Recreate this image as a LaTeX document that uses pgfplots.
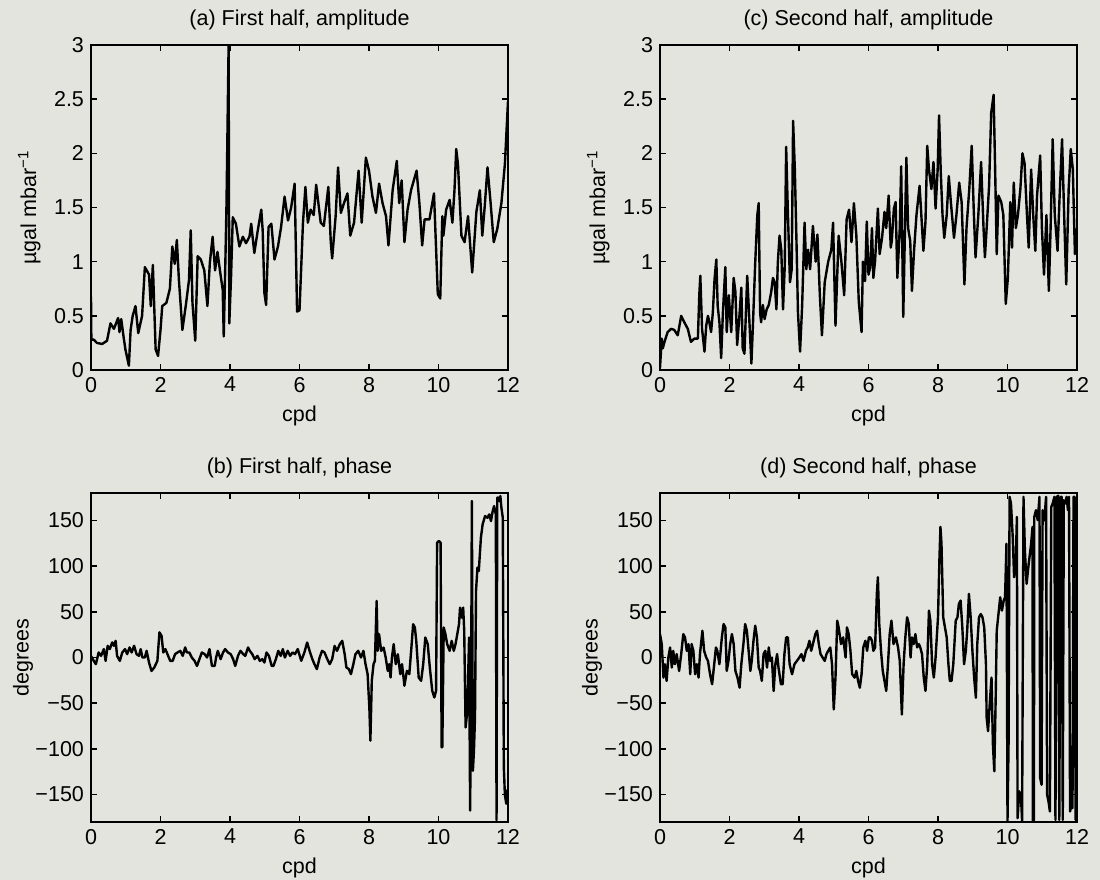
\documentclass[border=0pt]{standalone}
\usepackage{fontspec}
\setmainfont{Liberation Sans}
\usepackage{pgfplots}
\pgfplotsset{compat=1.18}
\definecolor{paper}{RGB}{228,228,222}

\pgfplotsset{
  panel/.style={
    scale only axis, width=208.5bp, anchor=south west,
    xmin=0, xmax=12, xtick={0,2,...,12},
    tick align=inside, major tick length=3.2bp,
    axis line style={line width=0.9bp},
    every tick/.style={black, line width=0.7bp},
    tick label style={font=\fontsize{10.8}{12}\selectfont},
    label style={font=\fontsize{10.8}{12}\selectfont},
    every axis title/.style={at={(0.5,1)}, anchor=south, yshift=4bp,
      font=\fontsize{10.8}{12}\selectfont},
    /pgf/number format/assume math mode=true,
    xlabel=cpd,
  },
  amp/.style={height=162.5bp, ymin=0, ymax=3, ytick={0,0.5,1,1.5,2,2.5,3},
    yticklabels={0,0.5,1,1.5,2,2.5,3},
    ylabel={µgal mbar\textsuperscript{−1}},
    ylabel style={at={(axis description cs:-0.148,0.5)}, anchor=center}},
  phase/.style={height=164.5bp, ymin=-180, ymax=180,
    ytick={-150,-100,-50,0,50,100,150},
    yticklabels={−150,−100,−50,0,50,100,150},
    ylabel=degrees,
    ylabel style={at={(axis description cs:-0.163,0.5)}, anchor=center}},
  trace/.style={black, line width=1.2bp, line join=round},
}

\begin{document}
\begin{tikzpicture}
\path[use as bounding box, fill=paper] (0,0) rectangle (550bp,440bp);

% (a) first half, amplitude
\begin{axis}[panel, amp, at={(45.5bp,255bp)}, title={(a) First half, amplitude}]
\addplot[trace] coordinates {
(0,0.68) (0.01,0.28) (0.08,0.28) (0.17,0.25) (0.32,0.24) (0.46,0.27) (0.56,0.43)
(0.66,0.38) (0.78,0.48) (0.82,0.35) (0.87,0.47) (0.94,0.3) (0.99,0.19) (1.09,0.04)
(1.14,0.37) (1.2,0.5) (1.28,0.59) (1.36,0.34) (1.47,0.5) (1.55,0.95) (1.67,0.88)
(1.72,0.59) (1.78,0.97) (1.86,0.19) (1.93,0.13) (2.0,0.37) (2.05,0.59) (2.17,0.62)
(2.27,0.75) (2.34,1.14) (2.41,0.98) (2.47,1.2) (2.53,0.83) (2.63,0.37) (2.73,0.6)
(2.82,0.83) (2.87,1.29) (2.92,0.62) (3.0,0.27) (3.07,1.05) (3.16,1.02) (3.26,0.92)
(3.35,0.59) (3.42,0.99) (3.5,1.23) (3.57,0.92) (3.64,1.09) (3.71,0.92) (3.79,0.74)
(3.82,0.31) (3.87,1.05) (3.9,1.54) (3.93,2.27) (3.96,3.0) (3.98,0.43) (4.03,0.86)
(4.08,1.41) (4.17,1.35) (4.27,1.14) (4.37,1.23) (4.46,1.17) (4.56,1.23) (4.61,1.35)
(4.7,1.08) (4.8,1.29) (4.9,1.48) (4.94,1.29) (4.99,0.71) (5.04,0.6) (5.11,1.32)
(5.19,1.35) (5.28,1.02) (5.38,1.14) (5.47,1.32) (5.57,1.6) (5.67,1.38) (5.76,1.5)
(5.86,1.72) (5.93,0.54) (6.0,0.55) (6.1,1.36) (6.17,1.69) (6.24,1.36) (6.32,1.48)
(6.41,1.43) (6.48,1.71) (6.61,1.36) (6.7,1.33) (6.83,1.69) (6.9,1.18) (6.94,1.03)
(7.04,1.42) (7.11,1.87) (7.19,1.45) (7.28,1.54) (7.38,1.63) (7.46,1.24) (7.57,1.36)
(7.7,1.84) (7.79,1.36) (7.91,1.96) (8.0,1.84) (8.1,1.6) (8.2,1.45) (8.29,1.72)
(8.39,1.54) (8.49,1.42) (8.56,1.15) (8.68,1.66) (8.8,1.93) (8.87,1.54) (8.94,1.75)
(9.02,1.18) (9.11,1.48) (9.21,1.66) (9.37,1.84) (9.45,1.54) (9.53,1.15) (9.6,1.39)
(9.74,1.39) (9.87,1.63) (9.98,0.7) (10.05,0.66) (10.11,1.42) (10.14,1.24) (10.22,1.48)
(10.32,1.57) (10.4,1.36) (10.46,1.66) (10.51,2.04) (10.56,1.9) (10.66,1.24) (10.75,1.18)
(10.85,1.42) (10.97,0.9) (11.09,1.46) (11.19,1.66) (11.26,1.24) (11.33,1.51) (11.41,1.87)
(11.5,1.54) (11.59,1.18) (11.69,1.3) (11.81,1.54) (11.91,1.9) (12.0,2.48)
};
\end{axis}

% (c) second half, amplitude
\begin{axis}[panel, amp, at={(330bp,255bp)}, title={(c) Second half, amplitude}]
\addplot[trace] coordinates {
(0,0.02) (0.05,0.29) (0.08,0.2) (0.13,0.26) (0.22,0.35) (0.32,0.38) (0.41,0.37)
(0.51,0.32) (0.61,0.5) (0.7,0.44) (0.8,0.38) (0.89,0.26) (0.99,0.29) (1.09,0.29)
(1.13,0.69) (1.16,0.87) (1.21,0.38) (1.28,0.17) (1.33,0.41) (1.38,0.5) (1.42,0.44)
(1.47,0.35) (1.52,0.53) (1.57,0.84) (1.62,1.02) (1.66,0.59) (1.71,0.44) (1.76,0.11)
(1.81,0.53) (1.88,0.95) (1.92,0.35) (1.98,0.69) (2.05,0.35) (2.12,0.85) (2.17,0.72)
(2.22,0.23) (2.29,0.52) (2.34,0.76) (2.38,0.2) (2.43,0.15) (2.51,0.87) (2.56,0.53)
(2.63,0.06) (2.67,0.38) (2.74,0.99) (2.8,1.43) (2.84,1.54) (2.88,0.53) (2.91,0.44)
(2.96,0.6) (3.01,0.47) (3.07,0.56) (3.13,0.6) (3.2,0.72) (3.25,0.85) (3.3,0.81)
(3.35,0.56) (3.39,0.99) (3.44,1.24) (3.49,1.11) (3.54,0.56) (3.59,0.96) (3.63,2.06)
(3.68,1.45) (3.74,0.81) (3.79,0.93) (3.83,2.3) (3.88,1.85) (3.93,1.15) (3.97,0.53)
(4.03,0.17) (4.09,0.59) (4.16,1.36) (4.21,0.93) (4.26,1.11) (4.32,0.93) (4.4,1.33)
(4.48,1.0) (4.53,1.25) (4.6,0.69) (4.66,0.32) (4.74,0.81) (4.84,1.0) (4.93,1.11)
(4.98,1.36) (5.05,0.41) (5.14,1.24) (5.22,1.0) (5.3,0.69) (5.37,1.39) (5.44,1.48)
(5.51,1.18) (5.58,1.54) (5.65,1.24) (5.72,0.63) (5.8,0.35) (5.84,1.0) (5.9,0.82)
(5.95,1.37) (6.0,0.88) (6.05,0.95) (6.1,1.31) (6.14,0.85) (6.19,1.01) (6.27,1.49)
(6.32,1.07) (6.39,1.22) (6.46,1.46) (6.51,1.31) (6.58,1.61) (6.64,1.13) (6.67,1.19)
(6.73,1.49) (6.78,1.55) (6.83,0.85) (6.9,1.31) (6.94,1.88) (7.0,0.49) (7.05,1.31)
(7.09,1.96) (7.14,1.31) (7.2,1.19) (7.25,0.73) (7.31,1.1) (7.38,1.43) (7.47,1.7)
(7.52,1.43) (7.58,1.1) (7.64,1.37) (7.69,2.07) (7.74,1.85) (7.81,1.67) (7.87,1.92)
(7.93,1.49) (7.99,1.85) (8.03,2.35) (8.08,1.82) (8.13,1.43) (8.18,1.22) (8.25,1.43)
(8.31,1.79) (8.37,1.55) (8.46,1.22) (8.53,1.43) (8.61,1.73) (8.68,1.55) (8.76,0.79)
(8.82,1.31) (8.9,1.67) (8.97,2.07) (9.03,1.46) (9.08,1.04) (9.16,1.43) (9.24,1.92)
(9.31,1.31) (9.35,1.04) (9.4,1.31) (9.47,1.7) (9.53,2.37) (9.6,2.54) (9.64,1.92)
(9.69,1.07) (9.74,1.61) (9.82,1.55) (9.88,1.43) (9.95,0.61) (10.01,0.85) (10.08,1.55)
(10.13,1.13) (10.18,1.73) (10.24,1.31) (10.3,1.43) (10.37,1.67) (10.43,2.0) (10.49,1.91)
(10.56,1.43) (10.61,1.13) (10.68,1.85) (10.74,1.43) (10.8,1.1) (10.85,1.61) (10.94,1.98)
(10.99,1.31) (11.05,0.88) (11.12,1.43) (11.19,0.73) (11.24,1.31) (11.3,2.13) (11.36,1.43)
(11.44,1.1) (11.5,1.61) (11.57,2.13) (11.63,1.43) (11.69,0.79) (11.76,1.67) (11.82,2.04)
(11.88,1.85) (11.94,1.07) (12.0,1.31)
};
\end{axis}

% (b) first half, phase
\begin{axis}[panel, phase, at={(45.5bp,29bp)}, title={(b) First half, phase}]
\addplot[trace] coordinates {
(0,1.8) (0.08,-3.7) (0.14,-7.3) (0.22,5.5) (0.29,1.8) (0.37,9.2) (0.42,-3.7) (0.48,12.8)
(0.54,9.2) (0.61,16.5) (0.66,12.8) (0.71,18.3) (0.75,1.8) (0.83,-3.7) (0.9,5.5) (0.98,9.2)
(1.04,3.7) (1.11,11) (1.17,5.5) (1.24,12.8) (1.31,3.7) (1.38,1.8) (1.43,9.2) (1.48,0)
(1.55,0) (1.6,7.3) (1.67,-5.5) (1.74,-14.7) (1.82,-11) (1.91,-3.7) (1.97,27.5) (2.03,23.8)
(2.08,5.5) (2.14,9.2) (2.2,3.7) (2.28,-3.7) (2.35,-3.7) (2.42,3.7) (2.49,5.5) (2.57,7.3)
(2.64,1.8) (2.71,11) (2.76,5.5) (2.83,5.5) (2.9,0) (2.98,-3.7) (3.05,-9.2) (3.12,-1.8)
(3.19,5.5) (3.27,3.7) (3.34,0) (3.41,9.2) (3.48,-9.2) (3.56,-9.2) (3.6,0) (3.65,7.3)
(3.73,-1.8) (3.8,5.5) (3.86,9.2) (3.94,5.5) (4.02,3.7) (4.09,-1.8) (4.15,-9.2) (4.23,1.8)
(4.3,7.3) (4.38,3.7) (4.44,1.8) (4.52,11) (4.57,7.3) (4.64,3.7) (4.71,-1.8) (4.79,1.8)
(4.86,-3.7) (4.93,-1.8) (4.99,-5.5) (5.05,5.5) (5.12,1.8) (5.2,-9.2) (5.25,-9.2) (5.32,-1.8)
(5.39,7.3) (5.46,1.8) (5.52,9.2) (5.58,0) (5.66,7.3) (5.73,1.8) (5.8,5.5) (5.87,3.7)
(5.95,9.2) (6.05,-3.6) (6.14,5.5) (6.22,16.4) (6.29,7.3) (6.37,-1.8) (6.43,-7.3) (6.5,-12.7)
(6.58,0) (6.65,7.3) (6.72,5.5) (6.8,-1.8) (6.87,-7.3) (6.94,-1.8) (7.01,12.7) (7.08,7.3)
(7.16,14.6) (7.23,18.2) (7.3,3.6) (7.35,-10.9) (7.42,-12.7) (7.48,-18.2) (7.55,-7.3) (7.61,3.6)
(7.69,7.3) (7.77,0) (7.84,7.3) (7.9,-7.3) (7.96,-18.2) (8.01,-54.6) (8.04,-91) (8.08,-25.5)
(8.13,-7.3) (8.17,-3.6) (8.22,61.9) (8.25,7.3) (8.29,25.5) (8.35,7.3) (8.42,10.9) (8.48,0)
(8.54,-14.6) (8.58,-7.3) (8.62,-21.9) (8.66,0) (8.71,14.6) (8.77,-7.3) (8.83,3.6) (8.9,-18.2)
(8.95,-7.3) (9.02,-30.9) (9.09,-14.6) (9.16,-18.2) (9.22,10.9) (9.27,36.4) (9.32,32.8) (9.36,18.2)
(9.43,-21.9) (9.5,-25.5) (9.56,-7.3) (9.62,21.9) (9.69,14.6) (9.75,-10.9) (9.82,-36.4) (9.88,-43.7)
(9.93,-36.4) (9.96,125.6) (10.01,127.5) (10.06,125.6) (10.09,-98.3) (10.11,-98) (10.15,32.8)
(10.2,25.5) (10.25,14.6) (10.32,7.3) (10.38,18.2) (10.44,7.3) (10.49,14.6) (10.54,25.5)
(10.59,36.4) (10.62,54.6) (10.67,43.7) (10.71,54.6) (10.74,29.1) (10.78,-76.5) (10.83,-58.3)
(10.88,21.9) (10.91,-167.5) (10.94,-21.9) (10.96,171.2) (10.99,-124) (11.02,-102) (11.05,-65.6)
(11.08,72.8) (11.12,98.3) (11.16,94.7) (11.22,131.1) (11.27,145.7) (11.34,154.8) (11.41,152.9)
(11.46,156.6) (11.51,149.3) (11.56,160.2) (11.6,165.7) (11.65,156.6) (11.67,-178) (11.69,175)
(11.72,175) (11.75,171) (11.78,176.6) (11.81,164) (11.85,153) (11.88,-120) (11.91,-150)
(11.95,-160) (11.98,-145) (12.0,-155)
};
\end{axis}

% (d) second half, phase
\begin{axis}[panel, phase, at={(330bp,29bp)}, title={(d) Second half, phase}]
\addplot[trace] coordinates {
(0,25.6) (0.05,14.7) (0.1,-22) (0.14,-7.3) (0.19,-25.6) (0.24,0) (0.29,11) (0.34,-11)
(0.38,7.3) (0.43,-7.3) (0.48,3.7) (0.55,-14.7) (0.61,3.7) (0.67,25.6) (0.72,22) (0.77,7.3)
(0.82,14.7) (0.87,-18.3) (0.91,14.7) (0.96,7.3) (1.01,-18.3) (1.06,-7.3) (1.11,-22) (1.15,3.7)
(1.22,29.3) (1.27,7.3) (1.33,0) (1.38,-3.7) (1.44,-18.3) (1.5,-29.3) (1.56,-7.3) (1.61,11)
(1.65,7.3) (1.71,-7.3) (1.78,22) (1.83,36.6) (1.88,33) (1.92,-14.7) (1.97,-3.7) (2.02,14.7)
(2.07,25.6) (2.12,14.7) (2.17,-14.7) (2.23,-22) (2.29,-33) (2.34,-7.3) (2.4,14.7) (2.45,36.6)
(2.5,29.3) (2.55,7.3) (2.6,-14.7) (2.64,-3.7) (2.69,18.3) (2.74,34.8) (2.79,22) (2.84,-11)
(2.88,-14.7) (2.93,-25.6) (2.98,3.7) (3.03,7.3) (3.08,-11) (3.13,11) (3.17,-3.7) (3.22,0)
(3.27,-36.6) (3.32,-7.3) (3.37,3.7) (3.41,-11) (3.48,-29.3) (3.53,-29.3) (3.58,3.7) (3.63,22)
(3.68,22) (3.73,-7.3) (3.8,-18.3) (3.87,-7.3) (3.94,-3.7) (4.01,0) (4.07,3.7) (4.13,-3.7)
(4.2,7.3) (4.25,11) (4.3,18.3) (4.35,7.3) (4.4,14.7) (4.47,25.6) (4.52,29.3) (4.57,14.7)
(4.62,3.7) (4.68,0) (4.74,-3.7) (4.79,3.7) (4.84,7.3) (4.9,11) (4.95,-7.3) (5.0,-56.8)
(5.05,-22) (5.1,40.3) (5.14,33) (5.21,14.7) (5.27,22) (5.34,0) (5.38,33) (5.43,25.6)
(5.48,7.3) (5.53,-18.3) (5.6,-22) (5.65,-14.7) (5.7,-25.6) (5.75,-33) (5.8,-18.3) (5.85,11)
(5.91,18.3) (5.96,7.3) (6.01,22) (6.05,22) (6.1,18.3) (6.14,7.3) (6.19,11) (6.24,69.6)
(6.27,87.9) (6.31,36.6) (6.36,7.3) (6.41,-14.7) (6.46,-25.6) (6.51,-36.6) (6.56,-7.3) (6.61,25.6)
(6.66,40.3) (6.72,14.7) (6.79,22) (6.85,11) (6.9,-3.7) (6.96,-62.3) (7.01,-7.3) (7.06,22)
(7.11,44) (7.16,36.6) (7.21,0) (7.25,22) (7.3,14.7) (7.35,25.6) (7.4,11) (7.45,14.7)
(7.49,11) (7.54,3.7) (7.59,-22) (7.64,-36.6) (7.69,-7.3) (7.74,51.3) (7.78,40.3) (7.83,-7.3)
(7.88,-22) (7.93,0) (8.0,44) (8.04,106.2) (8.07,142.9) (8.1,124.5) (8.15,44) (8.2,33)
(8.25,22) (8.3,-7.3) (8.34,-25.6) (8.39,-25.6) (8.44,-7.3) (8.51,40.3) (8.56,44) (8.6,58.6)
(8.65,62.3) (8.7,33) (8.75,-7.3) (8.8,7.3) (8.84,29.3) (8.89,69.6) (8.94,44) (8.99,7.3)
(9.04,-22) (9.09,-44) (9.13,14.7) (9.18,44) (9.23,47.6) (9.28,44) (9.33,33) (9.38,-7.3)
(9.4,-65.9) (9.44,-80.6) (9.5,-44) (9.54,-22) (9.58,-95.2) (9.62,-124.5) (9.66,-44) (9.69,29.3)
(9.73,44) (9.79,65.9) (9.84,51.3) (9.89,62.3) (9.93,65.9) (9.97,124.5) (10.0,-178.6) (10.03,-95.2)
(10.06,175.8) (10.1,168.5) (10.15,131.9) (10.19,87.9) (10.24,106.2) (10.27,153.8) (10.29,-175.8)
(10.34,-146.5) (10.39,-153.8) (10.42,-179.5) (10.46,175.8) (10.5,117.2) (10.55,80.6) (10.61,102.6)
(10.68,124.5) (10.72,142.9) (10.73,-179.5) (10.76,-177.7) (10.77,153.8) (10.82,161.2) (10.87,150.2)
(10.92,175.8) (10.94,-131.9) (10.98,-139.2) (11.01,161.2) (11.06,150.2) (11.11,175.8) (11.14,-150.2)
(11.18,-157.5) (11.22,-168.5) (11.26,164.8) (11.3,168.5) (11.35,175.8) (11.38,-177.7) (11.42,175.8)
(11.46,177) (11.49,-177.7) (11.53,175.8) (11.56,175.8) (11.59,-177.7) (11.62,172.1) (11.66,168.5)
(11.7,175.8) (11.74,161.2) (11.77,175.8) (11.8,-168.5) (11.84,-161.2) (11.87,-164.8) (11.9,175.8)
(11.93,175.8) (11.96,-177.7) (12.0,-161.2)
};
\end{axis}
\end{tikzpicture}
\end{document}
